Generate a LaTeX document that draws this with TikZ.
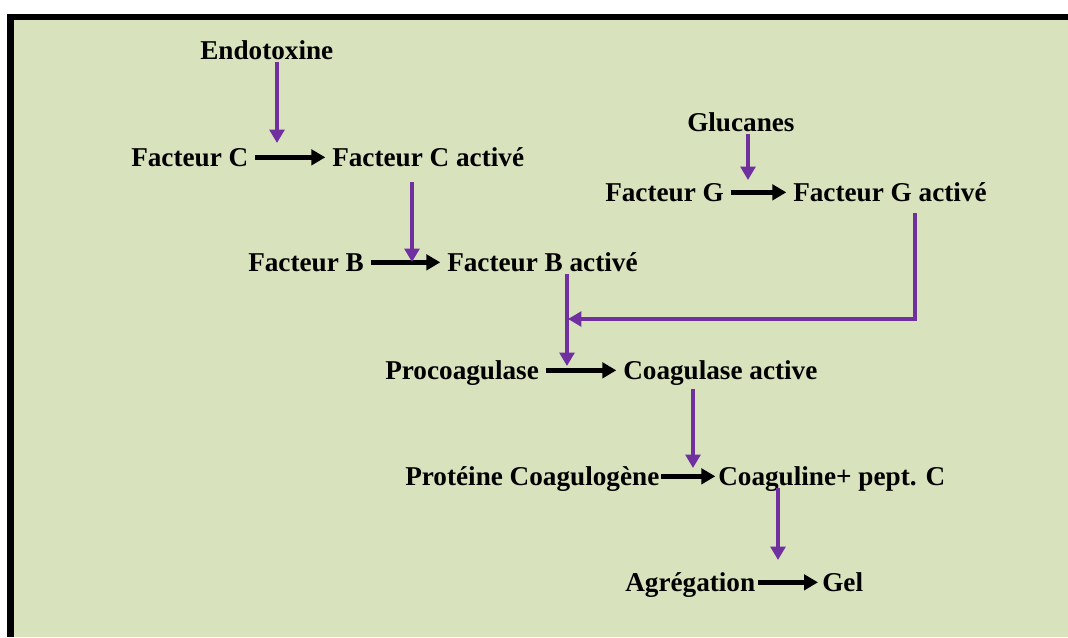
\documentclass[tikz,border=0pt]{standalone}
\usepackage{fontspec}
\setmainfont{Liberation Serif}
\usetikzlibrary{arrows.meta}
\definecolor{panelgreen}{RGB}{216,226,189}
\definecolor{deeppurple}{RGB}{112,48,160}

\begin{document}
\begin{tikzpicture}[x=0.75pt,y=-0.75pt,
  lbl/.style={anchor=base west,inner xsep=0pt,inner ysep=0pt,text height=15pt,text depth=2pt,
    font=\fontsize{20.4}{24}\selectfont\bfseries},
  blk/.style={draw=black,line width=3.8pt,-{Triangle[length=10.5pt,width=11.5pt]},shorten <=5pt,shorten >=5pt},
  act/.style={draw=deeppurple,line width=3pt,-{Triangle[length=10pt,width=11pt]}}]
  \useasboundingbox (0,0) rectangle (1068,637);
  % frame
  \fill[black] (7,14) rectangle (1068,637);
  \fill[panelgreen] (14,20) rectangle (1068,637);
  % labels
  \node[lbl] (endo) at (200,59) {Endotoxine};
  \node[lbl] (fc) at (131,166) {Facteur C};
  \node[lbl] (fca) at (332,166) {Facteur C activé};
  \node[lbl] (glu) at (687,131) {Glucanes};
  \node[lbl] (fg) at (605,201) {Facteur G};
  \node[lbl] (fga) at (793,201) {Facteur G activé};
  \node[lbl] (fb) at (248,271) {Facteur B};
  \node[lbl] (fba) at (447,271) {Facteur B activé};
  \node[lbl] (proc) at (385,379) {Procoagulase};
  \node[lbl] (coag) at (623,379) {Coagulase active};
  \node[lbl] (prot) at (405,485) {Protéine Coagulogène};
  \node[lbl] (cgl) at (718,485) {Coaguline+ pept. C};
  \node[lbl] (agr) at (625,591) {Agrégation};
  \node[lbl] (gel) at (822,591) {Gel};
  % reactions
  \draw[blk] (fc) -- (fca);
  \draw[blk] (fg) -- (fga);
  \draw[blk] (fb) -- (fba);
  \draw[blk] (proc) -- (coag);
  \draw[blk,shorten <=1pt,shorten >=2pt] (prot) -- (cgl);
  \draw[blk,shorten <=2pt,shorten >=3pt] (agr) -- (gel);
  % activations
  \coordinate (t1) at (277,143);
  \coordinate (t2) at (748,180);
  \coordinate (t3) at (412,262);
  \coordinate (t4) at (567,366);
  \coordinate (t5) at (693,468);
  \coordinate (t6) at (778,560);
  \coordinate (k) at (915,319);
  \coordinate (j) at (568,319);
  \draw[act] (endo.south -| t1) -- (t1);
  \draw[act] (glu.south -| t2) -- (t2);
  \draw[act,shorten <=10pt] (fca.south -| t3) -- (t3);
  \draw[act] (fba.south -| t4) -- (t4);
  \draw[act,shorten <=7pt] (fga.south -| k) -- (k) -- (j);
  \draw[act,shorten <=5pt] (coag.south -| t5) -- (t5);
  \draw[act] (cgl.south -| t6) -- (t6);
\end{tikzpicture}
\end{document}
